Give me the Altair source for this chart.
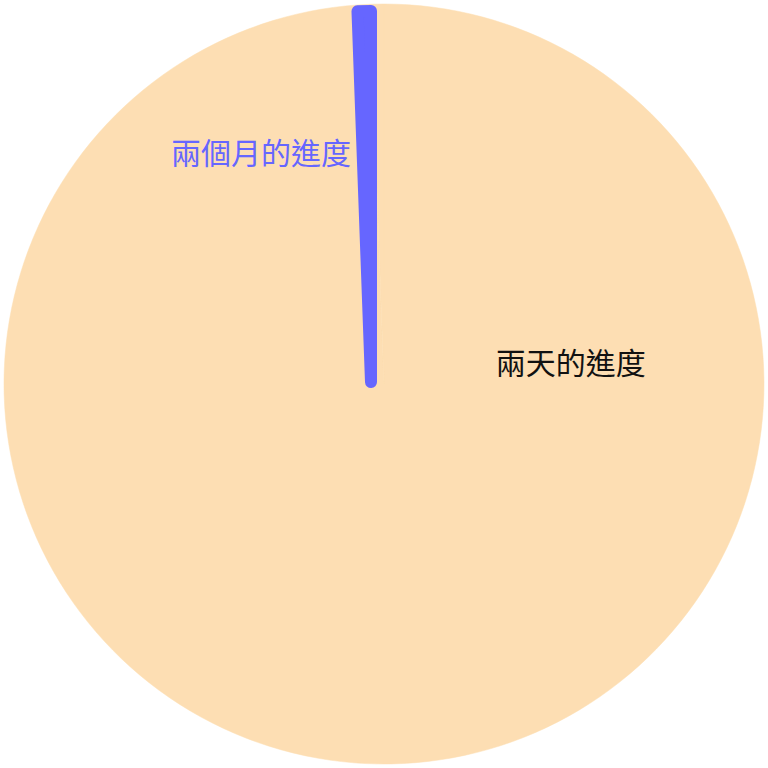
import altair as alt
import pandas as pd
import math

labels = ["兩天的進度", "兩個月的進度"]
values = [99.42, 0.58]
pie_color = "#FDDEB3"
slice_color = "#6666FF"
label_colors = ["#111111", "#6666FF"]
label_angle_deg = [83.3, -27.9]
label_radius = [188, 263]

df = pd.DataFrame({"label": labels, "value": values, "idx": [0, 1]})
lab = pd.DataFrame({
    "label": labels,
    "theta": [a * math.pi / 180 for a in label_angle_deg],
    "r": label_radius,
    "tcolor": label_colors,
})

theta_scale = alt.Scale(range=[0, 2 * math.pi])

base = alt.Chart(df)

fill_layer = base.mark_arc(outerRadius=380, strokeWidth=0.5, stroke=pie_color, fill=pie_color).encode(
    theta=alt.Theta("value:Q", stack=True, scale=theta_scale),
    order=alt.Order("idx:Q"),
)

blue_layer = base.mark_arc(
    outerRadius=371, stroke=slice_color, strokeWidth=12, strokeJoin="round", fill=slice_color
).encode(
    theta=alt.Theta("value:Q", stack=True, scale=theta_scale),
    order=alt.Order("idx:Q"),
    x=alt.value(371),
    y=alt.value(382),
    opacity=alt.condition(alt.datum.label == "兩個月的進度", alt.value(1), alt.value(0)),
)

text_layer = alt.Chart(lab).mark_text(
    font="Noto Sans CJK TC", fontSize=30, align="center", baseline="middle", dy=3
).encode(
    theta=alt.Theta("theta:Q", scale=None),
    radius=alt.Radius("r:Q", scale=None),
    text="label:N",
    color=alt.Color("tcolor:N", scale=None),
)

chart = alt.layer(fill_layer, blue_layer, text_layer).resolve_scale(
    theta="independent"
).properties(
    width=768, height=768, padding=0, autosize=alt.AutoSizeParams(type="none")
).configure_view(stroke=None)

chart.save("out.html", embed_options={"renderer": "svg", "actions": False})
